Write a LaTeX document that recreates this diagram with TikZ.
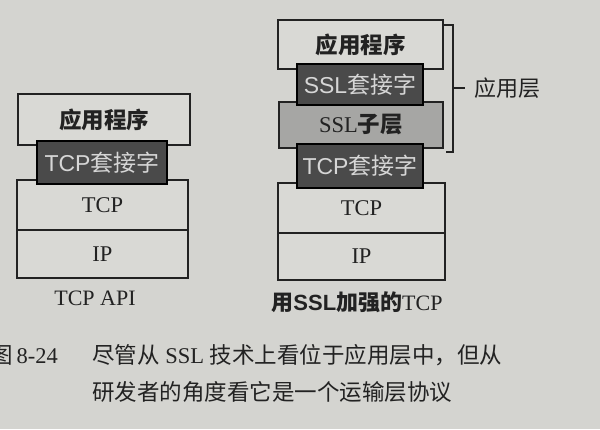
\documentclass[tikz,border=0pt]{standalone}
\usepackage{fontspec}
\setmainfont{Liberation Serif}
\setsansfont{Liberation Sans}
\newfontfamily\cjk{Noto Sans CJK SC}
\definecolor{paper}{HTML}{D4D4D0}
\definecolor{boxfill}{HTML}{D9D9D5}
\definecolor{darkbox}{HTML}{4A4A4A}
\definecolor{midbox}{HTML}{A6A6A4}
\definecolor{lighttext}{HTML}{D6D6D6}
\definecolor{ink}{HTML}{222222}
\begin{document}
\begin{tikzpicture}[x=1pt,y=-1pt,
  layer/.style={draw=ink,line width=1.1pt,fill=boxfill,inner sep=0pt,text=ink,font=\fontsize{22.5}{22.5}\selectfont},
  sockbox/.style={draw=black,line width=1.1pt,fill=darkbox,inner sep=0pt,text=lighttext,font=\fontsize{23}{23}\selectfont},
  subbox/.style={draw=ink,line width=1.1pt,fill=midbox,inner sep=0pt,text=ink,font=\fontsize{22.5}{22.5}\selectfont},
  lbl/.style={inner sep=0pt,text=ink,font=\fontsize{22}{22}\selectfont},
  captext/.style={inner sep=0pt,text=ink,font=\fontsize{22.5}{22.5}\selectfont,anchor=west}]
\fill[paper] (0,0) rectangle (600,429);
\useasboundingbox (0,0) rectangle (600,429);
% left stack
\node[layer,minimum width=172pt,minimum height=51pt] (app1) at (104,119.5) {\raisebox{-2pt}{{\cjk\bfseries 应用程序}}};
\node[layer,minimum width=171pt,minimum height=50pt] (tcp1) at (102.5,205) {TCP};
\node[layer,minimum width=171pt,minimum height=48pt] (ip1) at (102.5,254) {IP};
\node[sockbox,minimum width=130pt,minimum height=43pt] (sock1) at (102,162.5) {{\sffamily TCP}{\cjk 套接字}};
\node[lbl] (lab1) at (95,298) {TCP API};
% right stack
\node[layer,minimum width=165pt,minimum height=49pt] (app2) at (360.5,44.5) {\raisebox{-2pt}{{\cjk\bfseries 应用程序}}};
\node[subbox,minimum width=164pt,minimum height=46pt] (sub2) at (361,125) {SSL{\cjk\bfseries 子层}};
\node[layer,minimum width=167pt,minimum height=50pt] (tcp2) at (361.5,208) {\raisebox{-2pt}{TCP}};
\node[layer,minimum width=167pt,minimum height=47pt] (ip2) at (361.5,256.5) {IP};
\node[sockbox,minimum width=126pt,minimum height=41pt] (ssl2) at (360,84.5) {{\sffamily SSL}{\cjk 套接字}};
\node[sockbox,minimum width=126pt,minimum height=44pt] (sock2) at (360,166) {{\sffamily TCP}{\cjk 套接字}};
\node[lbl] (lab2) at (357,302) {{\cjk\bfseries 用}{\sffamily\bfseries SSL}{\cjk\bfseries 加强的}TCP};
% bracket
\coordinate (bt0) at (443,25);
\coordinate (bt1) at (453,25);
\coordinate (bb1) at (453,152);
\coordinate (bb0) at (446,152);
\coordinate (bm) at (453,88);
\coordinate (bm1) at (465,88);
\node[lbl,anchor=west] (applayer) at (474,88) {{\cjk 应用层}};
\draw[ink,line width=1.1pt] (bt0) -- (bt1) -- (bb1) -- (bb0);
\draw[ink,line width=1.1pt] (bm) -- (bm1);
% caption
\node[inner sep=0pt,text=ink,font=\fontsize{22.5}{22.5}\selectfont,anchor=east] (fig) at (58,355) {{\cjk 图}\,8-24};
\node[captext] (cap1) at (92,355) {{\cjk 尽管从} SSL {\cjk 技术上看位于应用层中，但从}};
\node[captext] (cap2) at (92,392) {{\cjk 研发者的角度看它是一个运输层协议}};
\end{tikzpicture}
\end{document}
